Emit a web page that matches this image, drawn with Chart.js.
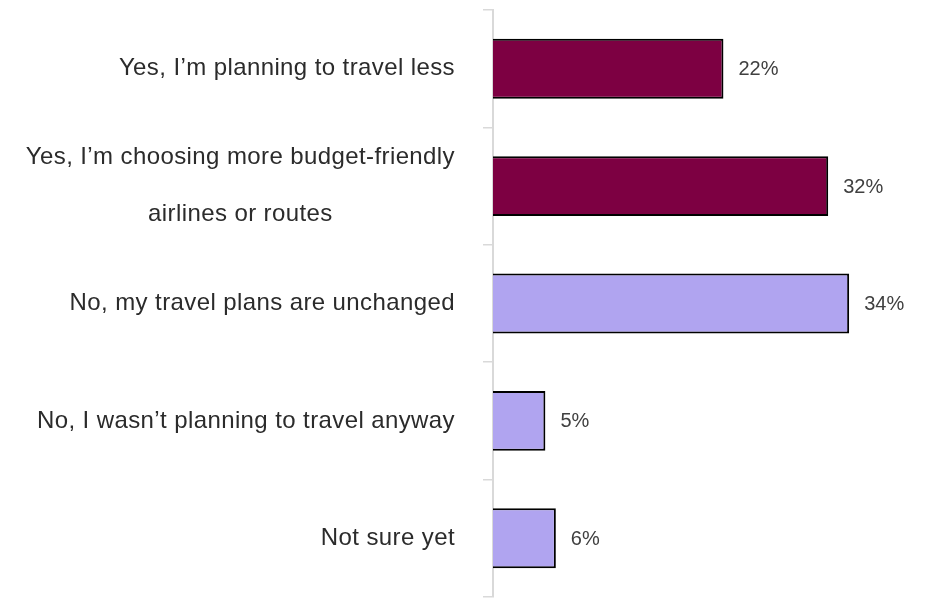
<!DOCTYPE html>
<html>
<head>
<meta charset="utf-8">
<script src="https://cdn.jsdelivr.net/npm/chart.js@4/dist/chart.umd.min.js"></script>
<style>
    html, body { margin: 0; padding: 0; background: #fff; }
    #wrap { width: 931px; height: 601px; }
</style>
</head>
<body>
<div id="wrap"><canvas id="myChart"></canvas></div>
<script>
// survey answers, values in %
var categories = [
    'Yes, I\u2019m planning to travel less',
    ['Yes, I\u2019m choosing more budget-friendly', 'airlines or routes'],
    'No, my travel plans are unchanged',
    'No, I wasn\u2019t planning to travel anyway',
    'Not sure yet'
];
var shares = [22, 32, 34, 5, 6];
var barColors = ['#7d0042', '#7d0042', '#b0a4f0', '#b0a4f0', '#b0a4f0'];

var labelFont = '24px "Liberation Sans", Arial, sans-serif';
var valueFont = '20px "Liberation Sans", Arial, sans-serif';

// category labels: single lines right aligned, wrapped label centred as a block
const categoryLabels = {
    id: 'categoryLabels',
    afterDraw(chart) {
        const ctx = chart.ctx;
        const y = chart.scales.y;
        const right = 455;
        ctx.save();
        ctx.font = labelFont;
        ctx.letterSpacing = '0.4px';
        ctx.fillStyle = '#2b2b2b';
        ctx.textBaseline = 'middle';
        categories.forEach(function (lab, i) {
            const cy = y.getPixelForValue(i);
            if (Array.isArray(lab)) {
                const widest = Math.max.apply(null, lab.map(function (s) { return ctx.measureText(s).width; }));
                const lineH = 57;
                ctx.textAlign = 'center';
                lab.forEach(function (s, j) {
                    ctx.fillText(s, right - widest / 2, cy + (j - (lab.length - 1) / 2) * lineH);
                });
            } else {
                ctx.textAlign = 'right';
                ctx.fillText(lab, right, cy);
            }
        });
        ctx.restore();
    }
};

// percentage next to each bar
const valueLabels = {
    id: 'valueLabels',
    afterDatasetsDraw(chart) {
        const ctx = chart.ctx;
        const meta = chart.getDatasetMeta(0);
        ctx.save();
        ctx.font = valueFont;
        ctx.fillStyle = '#404040';
        ctx.textAlign = 'left';
        ctx.textBaseline = 'middle';
        meta.data.forEach(function (bar, i) {
            ctx.fillText(shares[i] + '%', bar.x + 15, bar.y + 1);
        });
        ctx.restore();
    }
};

new Chart(document.getElementById('myChart'), {
    type: 'bar',
    data: {
        labels: categories,
        datasets: [{
            data: shares,
            backgroundColor: barColors,
            borderColor: '#000000',
            borderWidth: 2,
            barPercentage: 1,
            categoryPercentage: 0.51
        }]
    },
    options: {
        indexAxis: 'y',
        responsive: true,
        maintainAspectRatio: false,
        animation: false,
        layout: {
            padding: { top: 10, right: 19, bottom: 4, left: 0 }
        },
        scales: {
            x: {
                display: false,
                min: 0,
                max: 40
            },
            y: {
                afterFit(scale) { scale.width = 493; },
                ticks: { display: false },
                grid: {
                    offset: true,
                    drawOnChartArea: false,
                    drawTicks: true,
                    tickLength: 10,
                    color: '#d9d9d9',
                    lineWidth: 1.5
                },
                border: { display: true, color: '#d9d9d9', width: 2 }
            }
        },
        plugins: {
            legend: { display: false },
            tooltip: { enabled: false }
        }
    },
    plugins: [categoryLabels, valueLabels]
});
</script>
</body>
</html>
